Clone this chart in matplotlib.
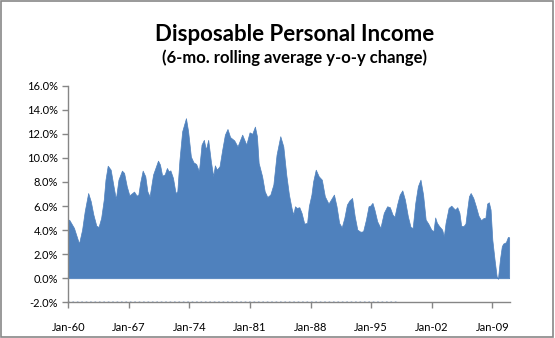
import matplotlib
matplotlib.use("Agg")
import matplotlib.pyplot as plt
from matplotlib.patches import Rectangle
from matplotlib.ticker import FuncFormatter

# readings of the 6-mo. rolling average y-o-y change (decimal year, percent)
years = [1960.0, 1960.1, 1960.66, 1961.24, 1961.6, 1961.9, 1962.3, 1962.6, 1962.9, 1963.24,
         1963.5, 1963.8, 1964.1, 1964.3, 1964.56, 1964.9, 1965.3, 1965.5, 1965.8, 1966.2,
         1966.45, 1966.76, 1967.06, 1967.4, 1967.6, 1967.9, 1968.1, 1968.3, 1968.6, 1968.9,
         1969.14, 1969.4, 1969.8, 1970.07, 1970.37, 1970.6, 1970.85, 1971.15, 1971.4, 1971.6,
         1971.8, 1972.1, 1972.4, 1972.6, 1972.85, 1973.16, 1973.6, 1973.85, 1974.17, 1974.47,
         1974.78, 1975.1, 1975.4, 1975.67, 1975.9, 1976.17, 1976.48, 1976.75, 1976.94, 1977.17,
         1977.48, 1977.79, 1978.1, 1978.4, 1978.7, 1979.18, 1979.56, 1980.1, 1980.57, 1980.95,
         1981.26, 1981.57, 1981.8, 1982.0, 1982.4, 1982.7, 1983.0, 1983.35, 1983.7, 1984.07,
         1984.5, 1984.85, 1985.2, 1985.5, 1985.8, 1986.0, 1986.2, 1986.4, 1986.7, 1986.96,
         1987.27, 1987.6, 1987.8, 1988.1, 1988.3, 1988.6, 1988.94, 1989.3, 1989.65, 1990.07,
         1990.4, 1990.7, 1991.0, 1991.3, 1991.6, 1991.9, 1992.2, 1992.5, 1992.8, 1993.1,
         1993.4, 1993.76, 1994.07, 1994.4, 1994.7, 1994.9, 1995.15, 1995.38, 1995.7, 1996.07,
         1996.46, 1996.85, 1997.16, 1997.47, 1997.7, 1998.0, 1998.3, 1998.6, 1998.9, 1999.24,
         1999.55, 1999.8, 2000.1, 2000.4, 2000.7, 2001.0, 2001.3, 2001.6, 2001.95, 2002.2,
         2002.4, 2002.6, 2002.87, 2003.2, 2003.4, 2003.6, 2003.95, 2004.26, 2004.5, 2004.7,
         2004.95, 2005.2, 2005.4, 2005.66, 2005.9, 2006.1, 2006.3, 2006.5, 2006.8, 2007.1,
         2007.4, 2007.7, 2008.0, 2008.2, 2008.4, 2008.6, 2008.8, 2009.0, 2009.26, 2009.5,
         2009.65, 2009.88, 2010.1, 2010.26, 2010.57, 2010.8, 2010.95]
pct = [4.73, 4.87, 4.18, 2.88, 4.04, 5.56, 7.08, 6.39, 5.29, 4.37,
       4.26, 5.01, 6.53, 8.19, 9.35, 9.02, 7.36, 6.59, 8.19, 8.94,
       8.75, 7.64, 6.89, 7.08, 7.2, 6.86, 6.95, 7.92, 8.94, 8.47,
       7.22, 6.8, 8.61, 9.16, 9.77, 9.44, 8.52, 8.63, 9.16, 8.88,
       8.96, 8.33, 7.08, 7.22, 9.85, 12.2, 13.3, 12.2, 10.1, 9.63,
       9.49, 8.88, 11.1, 11.5, 10.68, 11.5, 9.71, 8.47, 9.38, 9.02,
       9.3, 10.68, 11.93, 12.4, 11.73, 11.45, 10.95, 11.93, 11.1, 12.12,
       12.0, 12.6, 11.8, 9.58, 8.47, 7.22, 6.75, 6.95, 7.78, 10.27,
       11.8, 10.95, 8.55, 6.95, 5.84, 5.29, 5.98, 5.84, 5.9, 5.43,
       4.54, 4.6, 5.98, 6.95, 8.05, 9.02, 8.47, 8.19, 6.8, 6.2,
       6.59, 6.95, 5.98, 4.6, 4.23, 5.01, 6.12, 6.47, 6.67, 5.15,
       4.04, 3.86, 3.9, 4.87, 5.98, 6.03, 6.26, 5.7, 4.73, 4.18,
       5.43, 5.98, 5.9, 5.29, 5.1, 6.12, 6.95, 7.3, 6.53, 5.15,
       4.26, 4.18, 6.26, 7.64, 8.19, 6.95, 4.87, 4.54, 4.04, 3.9,
       5.05, 4.6, 4.32, 4.04, 3.49, 4.6, 5.84, 6.03, 5.84, 5.7,
       5.9, 5.43, 4.37, 4.32, 4.54, 5.7, 6.8, 7.08, 6.67, 5.98,
       5.2, 4.82, 5.01, 5.01, 6.2, 6.31, 5.7, 3.21, 1.55, 0.17,
       -0.05, 1.55, 2.66, 2.88, 2.99, 3.43, 3.4]

# faint second series lying on the axis floor
floor_years = [1960.0, 1998.2]
floor_vals = [-2.0, -2.0]

tick_years = [1960, 1967, 1974, 1981, 1988, 1995, 2002, 2009]
tick_labels = ["Jan-60", "Jan-67", "Jan-74", "Jan-81", "Jan-88", "Jan-95", "Jan-02", "Jan-09"]

plt.rcParams['font.family'] = ['Lato', 'DejaVu Sans']

fig = plt.figure(figsize=(5.55, 3.38), dpi=100)
fig.patches.append(Rectangle((0.001, 0.002), 0.996, 0.994, transform=fig.transFigure,
                             fill=False, edgecolor='#888888', linewidth=1.2))
ax = fig.add_axes([0.123, 0.1056, 0.796, 0.641])

ax.fill_between(years, 0, pct, color='#4F81BD', linewidth=0.5, edgecolor='#4F81BD')
ax.plot(floor_years, floor_vals, color='#B4C6DE', linestyle=':', linewidth=1.2, clip_on=False)

ax.set_xlim(1960, 2011.05)
ax.set_ylim(-2, 16)
ax.set_yticks(range(-2, 17, 2))
ax.yaxis.set_major_formatter(FuncFormatter(lambda v, p: f"{v:.1f}%"))
ax.set_xticks(tick_years)
ax.set_xticklabels(tick_labels)

for s in ['top', 'right']:
    ax.spines[s].set_visible(False)
for s in ['left', 'bottom']:
    ax.spines[s].set_color('#868686')
    ax.spines[s].set_linewidth(1)
ax.tick_params(axis='both', colors='#868686', labelcolor='black', labelsize=8, length=4, width=1)
ax.tick_params(axis='x', pad=10)

fig.text(0.53, 0.897, "Disposable Personal Income", ha='center', va='center',
         fontsize=16, fontweight='bold')
fig.text(0.53, 0.828, "(6-mo. rolling average y-o-y change)", ha='center', va='center',
         fontsize=12, fontweight='bold')

fig.savefig("out.png", dpi=100)
